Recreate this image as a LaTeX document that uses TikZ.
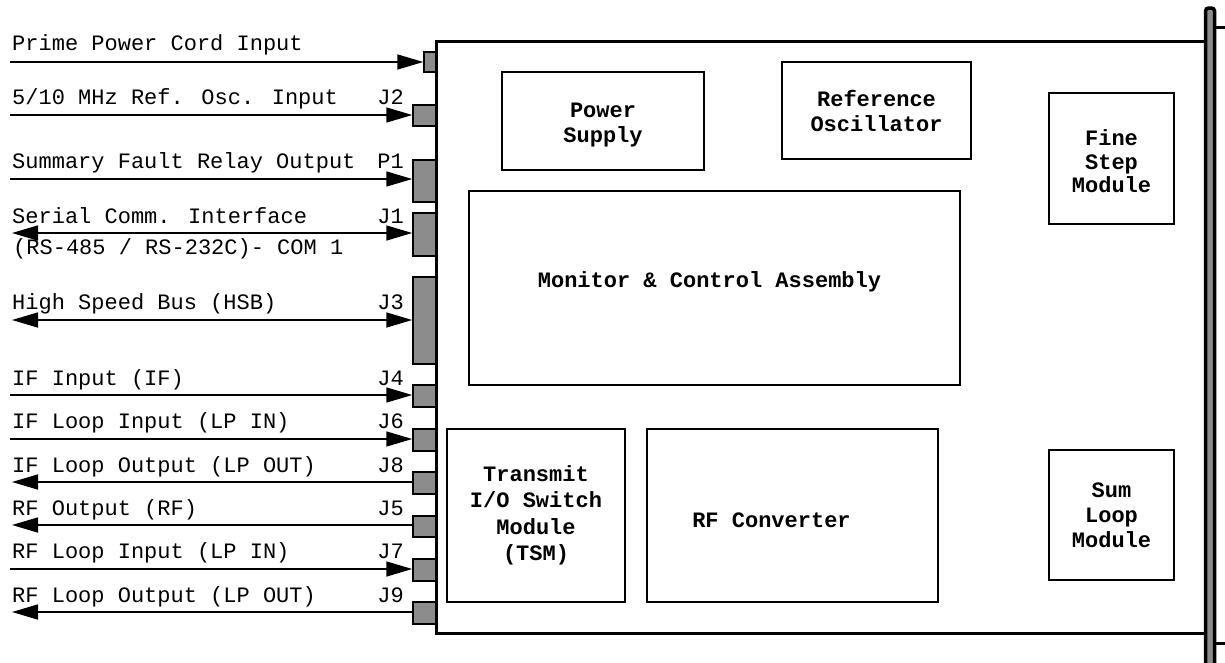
\documentclass[tikz,border=0pt]{standalone}
\usepackage{fontspec}
\newfontfamily\cour{Liberation Mono}
\usetikzlibrary{arrows.meta}
\definecolor{portgray}{RGB}{140,140,140}
\newcommand{\shiftup}[2]{\raisebox{#1}[\height][\depth]{#2}}
\tikzset{
  lab/.style={font=\cour\fontsize{22}{24}\selectfont, inner sep=0pt, anchor=base west},
  jlab/.style={lab, anchor=base east},
  port/.style={draw, line width=1.5pt, fill=portgray, inner sep=0pt},
  box/.style={draw, line width=1.5pt, fill=white, inner sep=0pt, align=center,
    font=\cour\bfseries\fontsize{22}{25}\selectfont},
  tipr/.tip={Triangle[length=26pt,width=15pt]},
  arr/.style={line width=1.6pt, -tipr},
  darr/.style={line width=1.6pt, tipr-tipr},
  larr/.style={line width=1.6pt, tipr-},
  heavy/.style={line width=3pt},
}
\begin{document}
\begin{tikzpicture}[x=1pt,y=-1pt]
\useasboundingbox (0,0) rectangle (1225,662);
% chassis fill
\fill[white] (436,41) rectangle (1206,633);
% right rail
\draw[line width=3.5pt, fill=portgray, rounded corners=3pt] (1205.5,680) -- (1205.5,8) -- (1214.5,8) -- (1214.5,680);
\draw[heavy] (1216,27) -- (1225,27);
\draw[heavy] (1216,643) -- (1225,643);
% ports
\node[port, minimum width=12pt, minimum height=20pt] (PP) at (430,62) {};
\node[port, minimum width=23pt, minimum height=21pt] (J2) at (424.5,115.5) {};
\node[port, minimum width=23pt, minimum height=42pt] (P1) at (424.5,181) {};
\node[port, minimum width=23pt, minimum height=43pt] (J1) at (424.5,234.5) {};
\node[port, minimum width=23pt, minimum height=87pt] (J3) at (424.5,320.5) {};
\node[port, minimum width=23pt, minimum height=22pt] (J4) at (424.5,396) {};
\node[port, minimum width=23pt, minimum height=22pt] (J6) at (424.5,440) {};
\node[port, minimum width=23pt, minimum height=22pt] (J8) at (424.5,483) {};
\node[port, minimum width=23pt, minimum height=21pt] (J5) at (424.5,526.5) {};
\node[port, minimum width=23pt, minimum height=22pt] (J7) at (424.5,570) {};
\node[port, minimum width=23pt, minimum height=22pt] (J9) at (424.5,613) {};
% chassis outline
\draw[heavy] (1206,633) -- (436,633) -- (436,41) -- (1206,41);
% inner modules
\node[box, minimum width=202pt, minimum height=98pt] (ps) at (603,121)
  {\shiftup{-4pt}{\fontsize{22}{26}\selectfont Power}\\\shiftup{-4pt}{Supply}};
\node[box, minimum width=189pt, minimum height=97pt] (ro) at (876.5,110.5) {Reference\\Oscillator};
\node[box, minimum width=125pt, minimum height=131pt, font=\cour\bfseries\fontsize{22}{23.5}\selectfont] (fs) at (1111.5,158.5)
  {\shiftup{-3pt}{Fine}\\\shiftup{-3pt}{Step}\\\shiftup{-3pt}{Module}};
\node[box, minimum width=491pt, minimum height=194pt] (mc) at (714.5,288)
  {\shiftup{6pt}{Monitor \& Control Assembly}\hspace*{10pt}};
\node[box, minimum width=178pt, minimum height=173pt, font=\cour\bfseries\fontsize{22}{26.5}\selectfont] (tsm) at (536,515.5)
  {Transmit\\I/O Switch\\Module\\(TSM)};
\node[box, minimum width=291pt, minimum height=173pt] (rfc) at (792.5,515.5)
  {\shiftup{-5pt}{RF Converter}\hspace*{42pt}};
\node[box, minimum width=125pt, minimum height=130pt] (sl) at (1111.5,515) {Sum\\Loop\\Module};
% free ends of connectors
\coordinate (ePP) at (10,62);
\coordinate (eJ2) at (10,115);
\coordinate (eP1) at (10,179);
\coordinate (eJ1) at (12,233);
\coordinate (eJ3) at (12,320);
\coordinate (eJ4) at (10,395);
\coordinate (eJ6) at (10,439);
\coordinate (eJ8) at (12,482);
\coordinate (eJ5) at (12,525);
\coordinate (eJ7) at (10,569);
\coordinate (eJ9) at (12,612);
% connectors
\draw[arr] (ePP) -- (ePP -| PP.west);
\draw[arr] (eJ2) -- (eJ2 -| J2.west);
\draw[arr] (eP1) -- (eP1 -| P1.west);
\draw[darr] (eJ1) -- (eJ1 -| J1.west);
\draw[darr] (eJ3) -- (eJ3 -| J3.west);
\draw[arr] (eJ4) -- (eJ4 -| J4.west);
\draw[arr] (eJ6) -- (eJ6 -| J6.west);
\draw[larr] (eJ8) -- (eJ8 -| J8.west);
\draw[larr] (eJ5) -- (eJ5 -| J5.west);
\draw[arr] (eJ7) -- (eJ7 -| J7.west);
\draw[larr] (eJ9) -- (eJ9 -| J9.west);
% labels
\node[lab] (tPP) at (12,50) {Prime Power Cord Input};
\node[lab] (tJ2) at (12,104) {5/10 MHz Ref. Osc. Input};
\node[jlab] (nJ2) at (404,104) {J2};
\node[lab] (tP1) at (12,168) {Summary Fault Relay Output};
\node[jlab] (nP1) at (404,168) {P1};
\node[lab] (tJ1) at (12,223) {Serial Comm. Interface};
\node[lab] (tJ1b) at (13,254) {(RS-485 / RS-232C)- COM 1};
\node[jlab] (nJ1) at (404,223) {J1};
\node[lab] (tJ3) at (12,309) {High Speed Bus (HSB)};
\node[jlab] (nJ3) at (404,309) {J3};
\node[lab] (tJ4) at (12,385) {IF Input (IF)};
\node[jlab] (nJ4) at (404,385) {J4};
\node[lab] (tJ6) at (12,428) {IF Loop Input (LP IN)};
\node[jlab] (nJ6) at (404,428) {J6};
\node[lab] (tJ8) at (12,472) {IF Loop Output (LP OUT)};
\node[jlab] (nJ8) at (404,472) {J8};
\node[lab] (tJ5) at (12,515) {RF Output (RF)};
\node[jlab] (nJ5) at (404,515) {J5};
\node[lab] (tJ7) at (12,558) {RF Loop Input (LP IN)};
\node[jlab] (nJ7) at (404,558) {J7};
\node[lab] (tJ9) at (12,602) {RF Loop Output (LP OUT)};
\node[jlab] (nJ9) at (404,602) {J9};
\end{tikzpicture}
\end{document}
